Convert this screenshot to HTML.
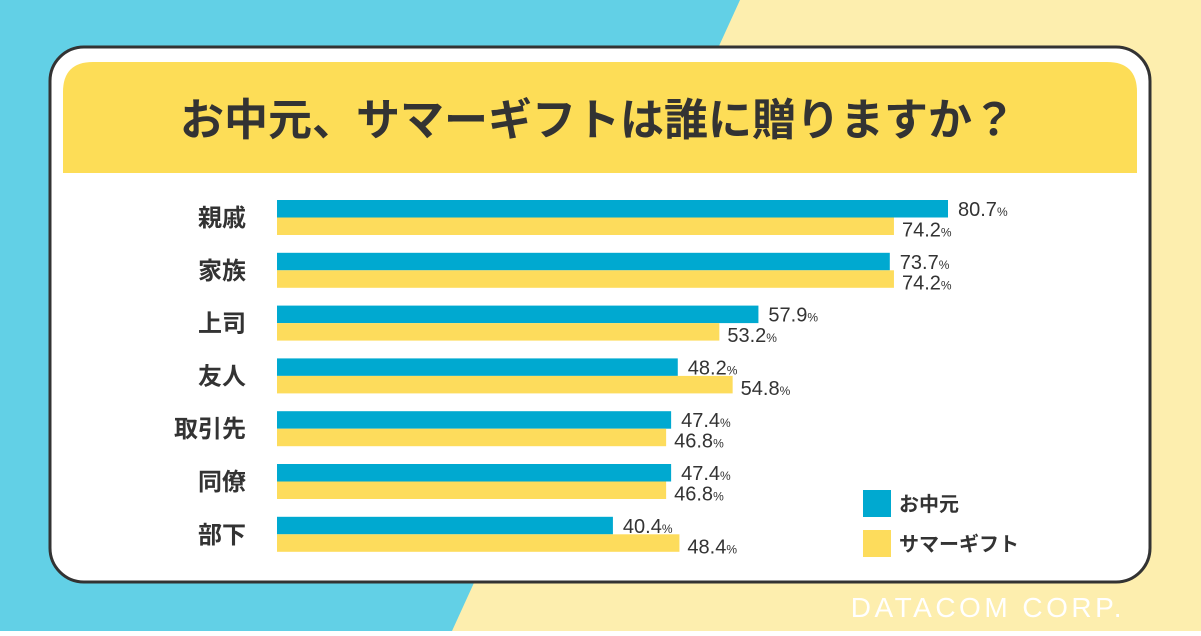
<!DOCTYPE html>
<html><head><meta charset="utf-8"><style>
body{margin:0;width:1201px;height:631px;overflow:hidden;font-family:"Liberation Sans","Noto Sans CJK JP",sans-serif;}
</style></head><body>
<svg width="1201" height="631" viewBox="0 0 1201 631" xmlns="http://www.w3.org/2000/svg">
<rect x="0" y="0" width="1201" height="631" fill="#fdeeae"/>
<polygon points="0,0 740,0 452,631 0,631" fill="#62d0e6"/>
<rect x="50" y="47" width="1100" height="535" rx="34" fill="#fff" stroke="#333" stroke-width="3"/>
<path d="M63,173 V92 Q63,62 93,62 H1107 Q1137,62 1137,92 V173 Z" fill="#fddd57"/>
<text x="598" y="135" text-anchor="middle" font-size="44" font-weight="bold" fill="#333">お中元、サマーギフトは誰に贈りますか？</text>
<g id="bars"></g>
<rect x="863" y="490" width="28" height="27" fill="#00a9d0"/>
<text x="899" y="511" font-size="20" font-weight="bold" fill="#333">お中元</text>
<rect x="863" y="530" width="28" height="27" fill="#fddc5c"/>
<text x="899" y="551" font-size="20" font-weight="bold" fill="#333">サマーギフト</text>
<text x="1125" y="617" text-anchor="end" font-size="28" fill="#fff" letter-spacing="3.5">DATACOM CORP.</text>
</svg>
<script>
const categories=["親戚","家族","上司","友人","取引先","同僚","部下"];
const ochugen=[80.7,73.7,57.9,48.2,47.4,47.4,40.4];
const summerGift=[74.2,74.2,53.2,54.8,46.8,46.8,48.4];
const NS="http://www.w3.org/2000/svg";
const g=document.getElementById('bars');
const x0=277, scale=(948-277)/80.7;
const xs=v=>x0+v*scale;
const y0=200, step=52.8, bh=17.5;
function mk(t,a){const e=document.createElementNS(NS,t);for(const k in a)e.setAttribute(k,a[k]);g.appendChild(e);return e;}
function label(v,x,y){const t=mk('text',{x:x,y:y,'font-size':20,fill:'#333'});t.textContent=v.toFixed(1);const s=document.createElementNS(NS,'tspan');s.setAttribute('font-size','12');s.textContent='%';t.appendChild(s);return t;}
categories.forEach((c,i)=>{
  const y=y0+i*step;
  const ct=mk('text',{x:246,y:y+26,'text-anchor':'end','font-size':24,'font-weight':'bold',fill:'#333'});ct.textContent=c;
  
  
  const b1=mk('rect',{x:x0,y:y,width:xs(ochugen[i])-x0,height:bh,fill:'#00a9d0'});
  
  
  const b2=mk('rect',{x:x0,y:y+bh,width:xs(summerGift[i])-x0,height:bh,fill:'#fddc5c'});
  
  
  const l1=label(ochugen[i],xs(ochugen[i])+10,y+16);
  
  
  const l2=label(summerGift[i],xs(summerGift[i])+8,y+bh+19);
  
  
});
</script>
</body></html>
